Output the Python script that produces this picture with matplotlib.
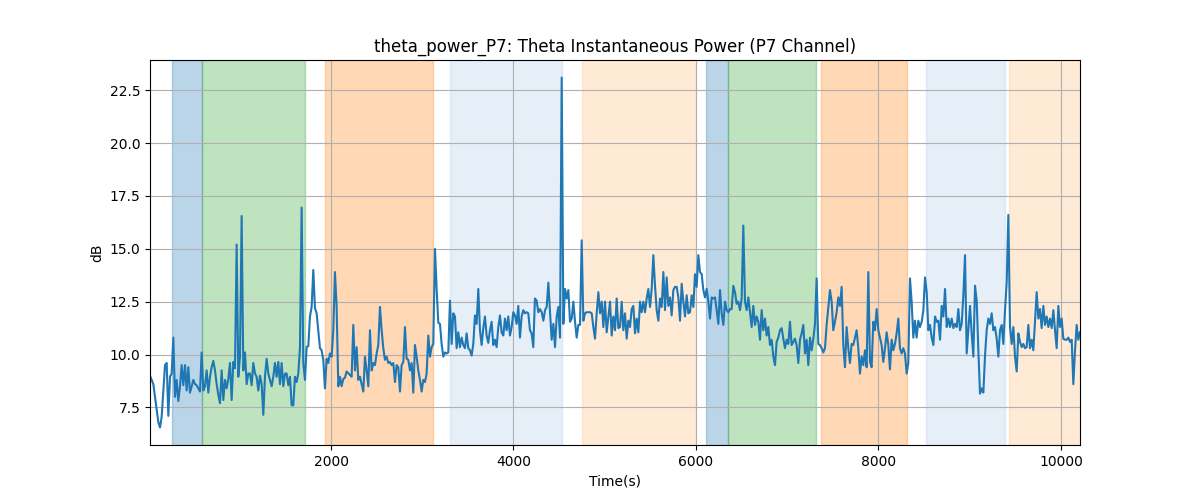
import numpy as np
import matplotlib
matplotlib.use("Agg")
import matplotlib.pyplot as plt

seg_a = [9.0, 8.8, 8.6, 8.0, 7.4, 6.8, 6.55, 7.05, 8.3, 9.5, 9.6, 7.1, 8.95, 9.1, 10.8, 8.0,
         8.8, 7.8, 8.5, 9.5, 8.55, 9.5, 8.3, 9.4, 8.2, 8.5, 8.8, 8.6, 8.55, 8.4, 8.25, 10.1,
         8.3, 8.5, 9.25, 8.2, 8.95, 9.4, 9.7, 9.25, 8.6, 8.1, 7.7, 9.25, 7.85, 8.8, 8.4, 8.85,
         9.6, 7.85, 9.65, 9.35, 15.2, 8.95, 9.9, 16.55, 9.25, 10.1, 8.6, 9.1, 9.1, 8.55, 9.6,
         9.1, 8.95, 8.3, 9.0, 8.6, 7.15, 8.95, 9.8, 9.1, 8.8, 8.5, 8.95, 9.6, 8.95, 9.65, 8.6,
         9.6, 8.5, 9.1, 9.1, 8.55, 8.95, 7.6, 7.6, 8.95, 8.7, 9.1, 10.3, 16.95, 9.6, 8.8,
         10.35, 10.4, 11.8, 12.25, 14.0, 12.2, 11.95, 11.15, 10.3, 10.2, 9.75, 8.4, 9.8, 9.6,
         10.05, 9.9, 11.15, 13.9, 12.25, 8.5, 8.95, 8.5, 8.85, 8.9, 9.2]
seg_b = [8.95, 11.4, 9.25, 10.35, 8.8, 8.95, 8.6, 8.25, 9.9, 9.25, 8.5, 11.15, 9.25, 9.6,
         9.5, 10.05, 10.45, 12.25, 11.15, 10.3, 9.75, 9.9, 9.6, 9.65, 9.5, 9.6, 8.7, 9.5, 9.4,
         8.25, 9.5, 9.65, 11.3, 9.8, 9.75, 9.25, 9.6, 8.2, 10.45, 9.9, 9.25, 8.8, 8.25, 8.8,
         8.7, 9.1, 10.9, 9.9, 10.35, 10.5, 15.0, 13.1, 11.5, 11.45, 10.5, 9.9, 10.1, 10.05,
         10.1, 12.55, 10.5, 11.95, 11.8, 10.3, 11.05, 10.35, 10.8, 10.45, 10.3, 11.0, 10.3,
         10.2, 9.95, 10.5, 11.85, 11.45, 13.1, 11.15, 10.45, 11.25, 11.8, 10.9, 10.55, 11.15,
         11.55, 10.45, 10.7, 10.35, 11.3, 11.85, 11.05, 10.9, 11.7, 11.15, 11.8, 10.9, 11.3,
         12.0, 11.85, 11.45, 12.3, 10.8, 11.8, 12.1, 11.95, 12.0, 11.95, 11.15, 11.0, 10.35,
         12.65, 12.55, 12.0, 12.15]
seg_c = [12.0, 11.6, 12.1, 12.25, 13.4, 12.0, 10.7, 11.45, 10.35, 11.8, 12.25, 10.8, 23.1,
         11.45, 13.1, 12.65, 13.05, 11.55, 11.7, 12.5, 11.55, 10.8, 11.4, 11.4, 15.4, 11.6,
         11.95, 12.0, 12.0, 12.0, 11.95, 11.3, 10.75, 11.95, 12.95, 11.95, 12.5, 11.3, 12.5,
         11.05, 11.8, 12.5, 10.9, 11.8, 11.15, 12.65, 11.25, 11.3, 12.5, 11.15, 11.95, 10.75,
         11.6, 11.3, 12.15, 12.3, 11.0, 11.7, 11.05, 12.5, 12.0, 12.5, 12.0, 12.65, 13.1,
         12.25, 13.1, 14.7, 13.25, 12.1, 11.6, 12.65, 12.25, 13.9, 12.1, 13.65, 12.3, 12.7,
         11.85, 13.05, 13.2, 13.2, 12.7, 11.6, 13.35, 12.5, 11.8, 12.8, 11.95, 12.0, 12.8,
         12.25, 13.8, 13.2, 14.7, 13.9, 13.8, 13.05, 12.7, 13.1, 12.5, 11.7, 12.7, 12.65, 12.7,
         12.1, 11.45, 13.05, 11.95, 11.4, 12.5, 12.1, 12.0, 12.15]
seg_d = [12.15, 13.25, 12.95, 12.4, 12.5, 12.1, 12.65, 16.1, 12.5, 12.1, 12.7, 12.0, 11.3,
         12.3, 11.4, 11.8, 11.55, 10.7, 12.1, 11.15, 11.7, 10.9, 11.3, 10.45, 10.7, 9.9, 9.5,
         10.6, 10.8, 11.15, 11.25, 10.75, 10.3, 10.7, 10.5, 11.55, 10.45, 10.6, 10.75, 10.45,
         9.6, 10.7, 11.0, 11.4, 10.05, 10.7, 9.5, 10.8, 10.2, 10.75, 11.45, 13.6, 10.5, 10.45,
         10.3, 10.1, 10.3, 11.4, 12.25, 13.05, 12.5, 11.15, 11.55, 12.0, 12.7, 12.3, 13.2,
         10.45, 9.4, 11.3, 10.3, 9.6, 10.5, 10.45, 10.8, 11.15, 10.3, 9.1, 9.9, 9.5, 10.2, 9.4,
         13.9, 9.65, 9.4, 11.55, 11.15, 12.15, 11.15, 10.8, 10.45, 9.65, 10.3, 11.05, 10.45,
         9.3, 10.7, 10.2, 10.5, 11.0, 11.7, 10.3, 10.05, 10.3, 10.05, 9.1, 9.6, 13.6, 12.5,
         10.8, 11.6, 10.8, 11.6, 11.3]
seg_e = [11.55, 12.1, 13.65, 12.95, 11.15, 11.4, 10.8, 10.45, 11.8, 11.55, 11.6, 10.7, 12.3,
         11.8, 13.1, 11.3, 11.7, 11.3, 11.7, 11.25, 11.45, 11.3, 12.15, 11.15, 11.45, 12.8,
         14.7, 10.05, 11.15, 12.3, 11.0, 9.9, 13.25, 12.55, 10.2, 8.15, 8.4, 8.2, 9.95, 11.15,
         11.7, 11.45, 11.95, 11.15, 11.3, 10.75, 9.9, 11.15, 11.4, 10.5, 12.1, 13.4, 16.6,
         11.3, 10.5, 11.3, 9.9, 9.2, 11.0, 10.6, 10.35, 10.5, 10.3, 10.35, 11.4, 10.3, 10.7,
         10.2, 11.55, 12.95, 11.7, 12.15, 11.25, 12.3, 11.4, 11.8, 11.3, 11.7, 11.25, 12.1,
         11.15, 10.3, 12.3, 11.3, 11.7, 10.75, 10.7, 10.7, 10.8, 10.6, 10.7, 8.6, 10.2, 11.4,
         10.7, 11.05]
segments = [seg_a, seg_b, seg_c, seg_d, seg_e]
# start / end time (s) of each stretch
seg_start = [16, 2226, 4309, 6391, 8474]
seg_end = [2171, 4290, 6373, 8455, 10209]

# shaded epochs
span_start = [257, 583, 1934, 3304, 4754, 6109, 6354, 7370, 8521, 9431]
span_end = [583, 1711, 3114, 4528, 5999, 6354, 7315, 8309, 9387, 10300]
span_color = ["#1f77b4", "#2ca02c", "#ff7f0e", "#aec7e8", "#ffbb78",
              "#1f77b4", "#2ca02c", "#ff7f0e", "#aec7e8", "#ffbb78"]

t = np.concatenate([np.linspace(a, b, len(s)) for a, b, s in zip(seg_start, seg_end, segments)])
power = np.concatenate([np.array(s) for s in segments])

fig, ax = plt.subplots(figsize=(12, 5), dpi=100)
for a, b, c in zip(span_start, span_end, span_color):
    ax.axvspan(a, b, color=c, alpha=0.3)
ax.plot(t, power, color="tab:blue")
ax.set_xlim(t.min(), t.max())
ax.grid(True)
ax.set_title("theta_power_P7: Theta Instantaneous Power (P7 Channel)")
ax.set_xlabel("Time(s)")
ax.set_ylabel("dB")

fig.savefig("out.png")
